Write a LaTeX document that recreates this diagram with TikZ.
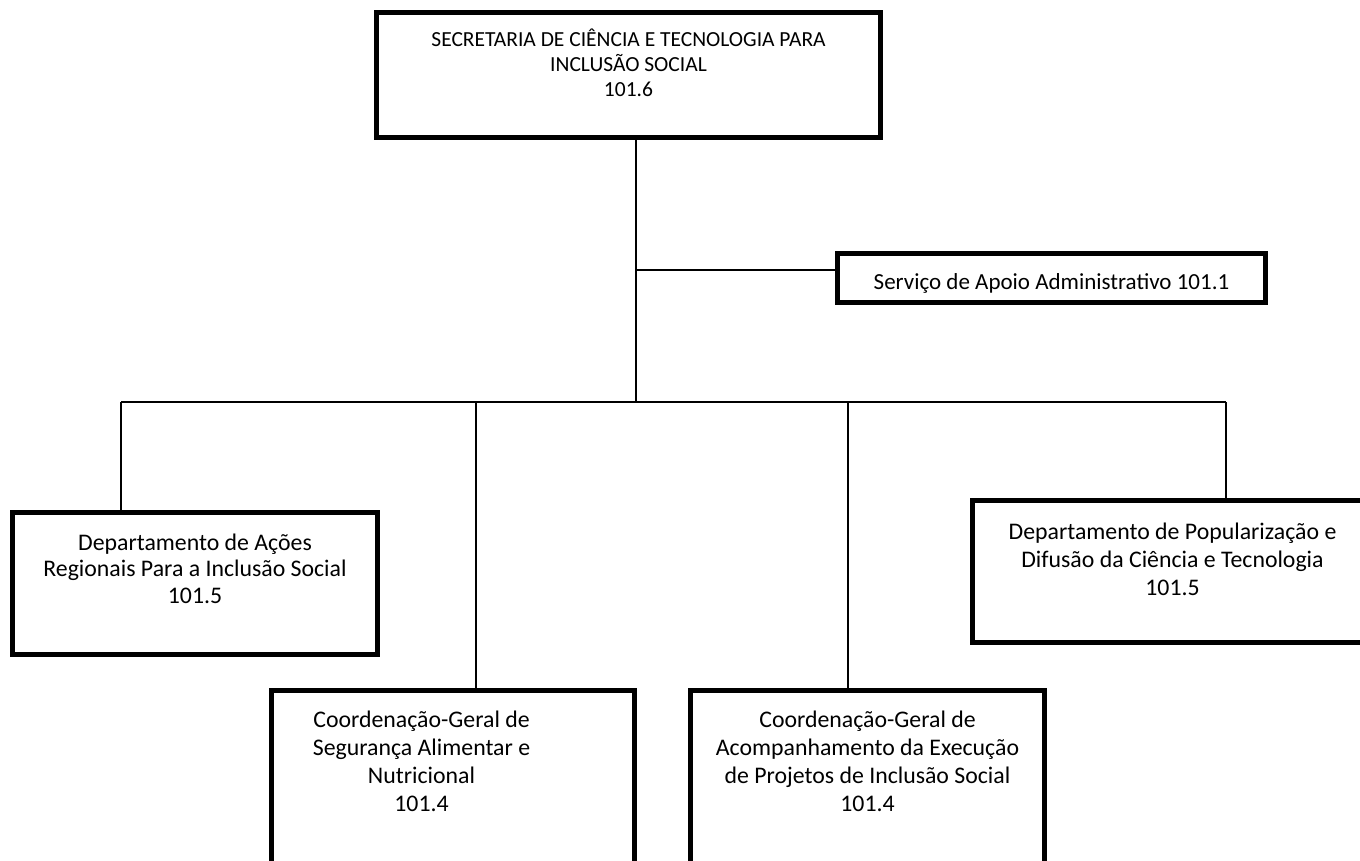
\documentclass[tikz,border=0pt]{standalone}
\usepackage{fontspec}
\setmainfont{Carlito}
\begin{document}
\begin{tikzpicture}[x=1pt, y=-1pt,
  unit/.style={draw, line width=5pt, inner sep=0pt, outer sep=0pt, align=center, anchor=north},
  link/.style={line width=1.5pt}]
  \useasboundingbox (0,0) rectangle (1360,861);
  \node[unit, minimum width=504, text height=84, text depth=40.5, font=\fontsize{21.5}{25}\selectfont] (sec) at (628.5,13) {SECRETARIA DE CIÊNCIA E TECNOLOGIA PARA\\ INCLUSÃO SOCIAL\\ 101.6};
  \node[unit, minimum width=428, text height=35.5, text depth=13.5, font=\fontsize{23}{27}\selectfont] (sap) at (1051.5,253.5) {Serviço de Apoio Administrativo 101.1};
  \node[unit, minimum width=365, text height=90.5, text depth=51.5, font=\fontsize{23.8}{26.5}\selectfont] (dar) at (195,512.5) {Departamento de Ações\\ Regionais Para a Inclusão Social\\ 101.5};
  \node[unit, minimum width=400, text height=94.5, text depth=47.5, font=\fontsize{23.8}{28}\selectfont] (dpd) at (1172.5,500.5) {Departamento de Popularização e\\ Difusão da Ciência e Tecnologia\\ 101.5};
  \node[draw, line width=5pt, inner sep=0pt, outer sep=0pt, anchor=north, text height=120.5, text depth=69, font=\fontsize{23.8}{28}\selectfont] (cgsan) at (452.75,690.5) {\parbox[b]{300pt}{\centering Coordenação-Geral de\\ Segurança Alimentar e\\ Nutricional\\ 101.4}\rule{62.5pt}{0pt}};
  \node[unit, minimum width=354, text height=120.5, text depth=69, font=\fontsize{23.8}{28}\selectfont] (cgap) at (867.5,690.5) {Coordenação-Geral de\\ Acompanhamento da Execução\\ de Projetos de Inclusão Social\\ 101.4};
  \coordinate (tap) at (636,270);
  \coordinate (hub) at (636,402);
  \coordinate (b1) at (121,402);
  \coordinate (b2) at (476,402);
  \coordinate (b3) at (848,402);
  \coordinate (b4) at (1226,402);
  \draw[link] (sec.south -| hub) -- (hub);
  \draw[link] (tap) -- (tap -| sap.west);
  \draw[link] (b1) -- (b4);
  \draw[link] (b1) -- (b1 |- dar.north);
  \draw[link] (b2) -- (b2 |- cgsan.north);
  \draw[link] (b3) -- (b3 |- cgap.north);
  \draw[link] (b4) -- (b4 |- dpd.north);
\end{tikzpicture}
\end{document}
